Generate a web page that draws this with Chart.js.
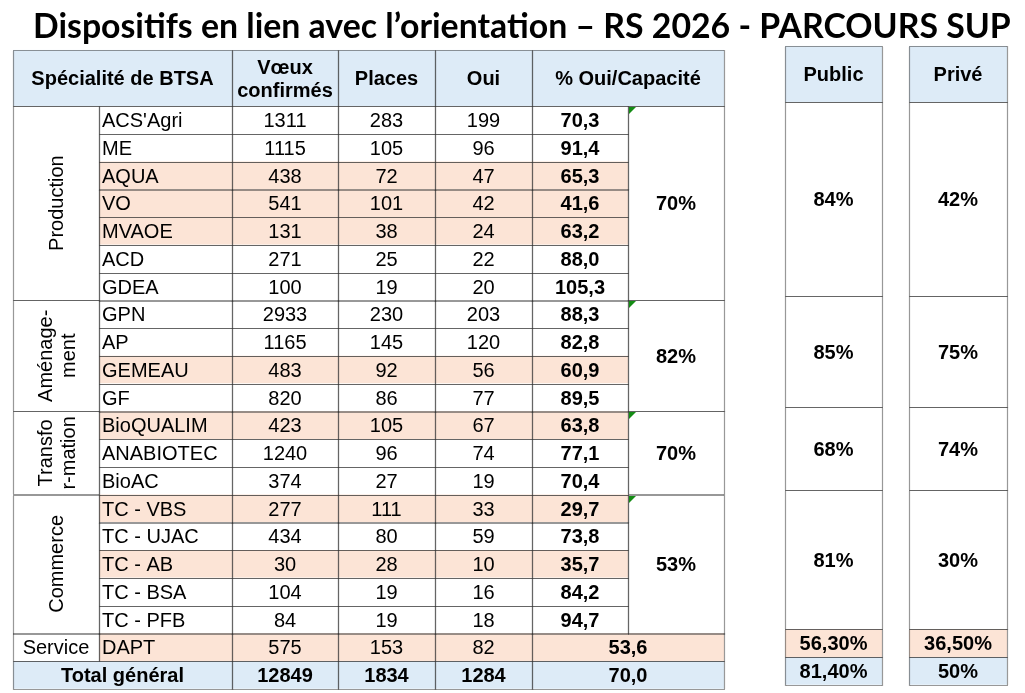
<!DOCTYPE html>
<html lang="fr">
<head>
<meta charset="utf-8">
<title>Dispositifs en lien avec l’orientation – RS 2026 - PARCOURS SUP</title>
<script src="https://cdn.jsdelivr.net/npm/chart.js@4.4.1/dist/chart.umd.min.js"></script>
<style>
    html, body { margin: 0; padding: 0; background: #fff; }
    #wrap { width: 1025px; height: 693px; }
</style>
</head>
<body>
<div id="wrap"><canvas id="tableau"></canvas></div>
<script>
const titre = "Dispositifs en lien avec l’orientation – RS 2026 - PARCOURS SUP";

const entetes = ["Spécialité de BTSA", "Vœux\nconfirmés", "Places", "Oui", "% Oui/Capacité"];
const entetesDroite = ["Public", "Privé"];

const groupes = ["Production", "Aménage-\nment", "Transfo\nr-mation", "Commerce", "Service"];
const tailleGroupes = [7, 4, 3, 5, 1];

const specialites = ["ACS'Agri", "ME", "AQUA", "VO", "MVAOE", "ACD", "GDEA",
    "GPN", "AP", "GEMEAU", "GF",
    "BioQUALIM", "ANABIOTEC", "BioAC",
    "TC - VBS", "TC - UJAC", "TC - AB", "TC - BSA", "TC - PFB",
    "DAPT"];
const voeux = [1311, 1115, 438, 541, 131, 271, 100, 2933, 1165, 483, 820, 423, 1240, 374, 277, 434, 30, 104, 84, 575];
const places = [283, 105, 72, 101, 38, 25, 19, 230, 145, 92, 86, 105, 96, 27, 111, 80, 28, 19, 19, 153];
const oui = [199, 96, 47, 42, 24, 22, 20, 203, 120, 56, 77, 67, 74, 19, 33, 59, 10, 16, 18, 82];
const tauxOui = [70.3, 91.4, 65.3, 41.6, 63.2, 88.0, 105.3, 88.3, 82.8, 60.9, 89.5, 63.8, 77.1, 70.4, 29.7, 73.8, 35.7, 84.2, 94.7, 53.6];
const surligne = [false, false, true, true, true, false, false, false, false, true, false, true, false, false, true, false, true, false, false, true];

const tauxGroupes = ["70%", "82%", "70%", "53%"];
const tauxPublic = ["84%", "85%", "68%", "81%", "56,30%"];
const tauxPrive = ["42%", "75%", "74%", "30%", "36,50%"];

const totalLibelle = "Total général";
const totalVoeux = 12849;
const totalPlaces = 1834;
const totalOui = 1284;
const totalTaux = 70.0;
const totalPublic = "81,40%";
const totalPrive = "50%";

// mise en page (pixels pour x, lignes pour y)
const COLS = [13, 99, 232, 338, 435, 532, 628, 724];
const COL_PUBLIC = [785, 882];
const COL_PRIVE = [909, 1007];
const ROW_H = 27.75, TOP = 106, TOP_R = 102, HEAD = 2.02;
const BLEU = "#ddebf7", ROSE = "#fce4d6", BLANC = "#ffffff", TRAIT = "#333333", VERT = "#148c14";
const POLICE = '"Liberation Sans", Arial, sans-serif';
const TAILLE = 20;

const virgule = v => v.toFixed(1).replace(".", ",");

function construireCellules() {
    const cells = [];
    const add = (s, x0, x1, r0, r1, txt, o = {}) => cells.push(Object.assign({ s, x0, x1, r0, r1, txt, fill: BLANC, bold: false, align: "center", rot: false }, o));

    // en-têtes
    add("y", COLS[0], COLS[2], -HEAD, 0, entetes[0], { fill: BLEU, bold: true });
    add("y", COLS[2], COLS[3], -HEAD, 0, entetes[1], { fill: BLEU, bold: true });
    add("y", COLS[3], COLS[4], -HEAD, 0, entetes[2], { fill: BLEU, bold: true });
    add("y", COLS[4], COLS[5], -HEAD, 0, entetes[3], { fill: BLEU, bold: true });
    add("y", COLS[5], COLS[7], -HEAD, 0, entetes[4], { fill: BLEU, bold: true });
    add("yR", COL_PUBLIC[0], COL_PUBLIC[1], -HEAD, 0, entetesDroite[0], { fill: BLEU, bold: true });
    add("yR", COL_PRIVE[0], COL_PRIVE[1], -HEAD, 0, entetesDroite[1], { fill: BLEU, bold: true });

    let debut = 0;
    groupes.forEach((g, gi) => {
        const n = tailleGroupes[gi];
        const fin = debut + n;
        add("y", COLS[0], COLS[1], debut, fin, g, { rot: n > 1 });
        const fusion = gi < tauxGroupes.length;
        for (let i = debut; i < fin; i++) {
            const fill = surligne[i] ? ROSE : BLANC;
            add("y", COLS[1], COLS[2], i, i + 1, specialites[i], { fill, align: "left" });
            add("y", COLS[2], COLS[3], i, i + 1, String(voeux[i]), { fill });
            add("y", COLS[3], COLS[4], i, i + 1, String(places[i]), { fill });
            add("y", COLS[4], COLS[5], i, i + 1, String(oui[i]), { fill });
            add("y", COLS[5], fusion ? COLS[6] : COLS[7], i, i + 1, virgule(tauxOui[i]), { fill, bold: true });
        }
        if (fusion) add("y", COLS[6], COLS[7], debut, fin, tauxGroupes[gi], { bold: true, marque: true });
        const fillR = n === 1 ? ROSE : BLANC;
        add("yR", COL_PUBLIC[0], COL_PUBLIC[1], debut, fin, tauxPublic[gi], { bold: true, fill: fillR });
        add("yR", COL_PRIVE[0], COL_PRIVE[1], debut, fin, tauxPrive[gi], { bold: true, fill: fillR });
        debut = fin;
    });

    // total
    const t = debut;
    add("y", COLS[0], COLS[2], t, t + 1, totalLibelle, { fill: BLEU, bold: true });
    add("y", COLS[2], COLS[3], t, t + 1, String(totalVoeux), { fill: BLEU, bold: true });
    add("y", COLS[3], COLS[4], t, t + 1, String(totalPlaces), { fill: BLEU, bold: true });
    add("y", COLS[4], COLS[5], t, t + 1, String(totalOui), { fill: BLEU, bold: true });
    add("y", COLS[5], COLS[7], t, t + 1, virgule(totalTaux), { fill: BLEU, bold: true });
    add("yR", COL_PUBLIC[0], COL_PUBLIC[1], t, t + 1, totalPublic, { fill: BLEU, bold: true });
    add("yR", COL_PRIVE[0], COL_PRIVE[1], t, t + 1, totalPrive, { fill: BLEU, bold: true });
    return cells;
}

const tableauPlugin = {
    id: "tableau",
    afterDraw(chart) {
        const ctx = chart.ctx;
        const sx = chart.scales.x;
        const cells = construireCellules().map(c => {
            const s = chart.scales[c.s];
            const x = sx.getPixelForValue(c.x0), y = s.getPixelForValue(c.r0);
            return Object.assign(c, { px: x, py: y, pw: sx.getPixelForValue(c.x1) - x, ph: s.getPixelForValue(c.r1) - y });
        });

        ctx.save();
        // titre
        ctx.fillStyle = "#000";
        ctx.font = 'bold 32px Lato, "Open Sans", sans-serif';
        const w = ctx.measureText(titre).width;
        ctx.font = `bold ${(32 * 978 / w).toFixed(2)}px Lato, "Open Sans", sans-serif`;
        ctx.textAlign = "left";
        ctx.textBaseline = "alphabetic";
        ctx.fillText(titre, 33, 38);

        // fonds
        cells.forEach(c => {
            ctx.fillStyle = c.fill;
            ctx.fillRect(c.px, c.py, c.pw, c.ph);
        });

        // traits pointillés
        ctx.strokeStyle = TRAIT;
        ctx.lineWidth = 1.2;
        ctx.setLineDash([1, 1]);
        cells.forEach(c => {
            ctx.strokeRect(Math.round(c.px) + 0.5, Math.round(c.py) + 0.5, Math.round(c.pw), Math.round(c.ph));
        });
        ctx.setLineDash([]);

        // triangles verts
        ctx.fillStyle = VERT;
        cells.filter(c => c.marque).forEach(c => {
            const x = Math.round(c.px) + 1, y = Math.round(c.py) + 1;
            ctx.beginPath();
            ctx.moveTo(x, y);
            ctx.lineTo(x + 7, y);
            ctx.lineTo(x, y + 7);
            ctx.closePath();
            ctx.fill();
        });

        // textes
        ctx.fillStyle = "#000";
        ctx.textBaseline = "alphabetic";
        cells.forEach(c => {
            const lignes = c.txt.split("\n");
            const lh = 23;
            ctx.font = `${c.bold ? "bold " : ""}${TAILLE}px ${POLICE}`;
            const cx = c.px + c.pw / 2, cy = c.py + c.ph / 2;
            ctx.save();
            if (c.rot) {
                ctx.translate(cx, cy);
                ctx.rotate(-Math.PI / 2);
                ctx.textAlign = "center";
                lignes.forEach((l, i) => {
                    ctx.fillText(l, 0, (i - (lignes.length - 1) / 2) * lh + 0.358 * TAILLE);
                });
            } else {
                ctx.textAlign = c.align;
                const tx = c.align === "left" ? c.px + 3 : cx;
                lignes.forEach((l, i) => {
                    ctx.fillText(l, tx, cy + (i - (lignes.length - 1) / 2) * lh + 0.358 * TAILLE);
                });
            }
            ctx.restore();
        });
        ctx.restore();
    }
};

new Chart(document.getElementById("tableau"), {
    type: "scatter",
    data: { datasets: [] },
    options: {
        responsive: true,
        maintainAspectRatio: false,
        animation: false,
        layout: { padding: 0 },
        plugins: { legend: { display: false }, tooltip: { enabled: false } },
        scales: {
            x: { type: "linear", min: 0, max: 1025, display: false },
            y: { type: "linear", axis: "y", min: -TOP / ROW_H, max: (693 - TOP) / ROW_H, reverse: true, display: false },
            yR: { type: "linear", axis: "y", position: "right", min: -TOP_R / ROW_H, max: (693 - TOP_R) / ROW_H, reverse: true, display: false }
        }
    },
    plugins: [tableauPlugin]
});
</script>
</body>
</html>
